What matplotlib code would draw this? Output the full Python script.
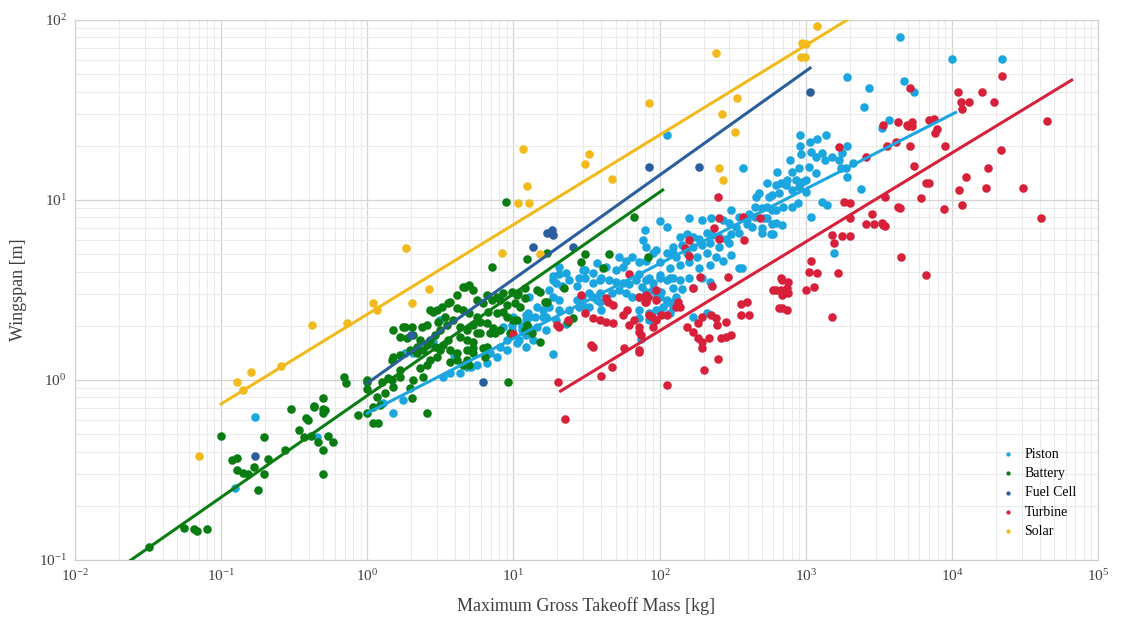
import matplotlib.pyplot as plt
import numpy as np
from matplotlib.ticker import NullFormatter, LogLocator

plt.rcParams['font.family'] = 'Liberation Serif'
plt.rcParams['mathtext.fontset'] = 'custom'
plt.rcParams['mathtext.rm'] = 'Liberation Serif'

# Data: mass [kg], wingspan [m]
piston_mass = [0.17, 0.125, 0.45, 1900, 2700, 2500, 3700, 3300, 112, 370, 4400, 10000, 22000, 4700, 5500,
               1550, 18.5, 75, 1.76, 1.5, 1.28, 1.82, 2.06,
               910, 1200, 1370, 1070, 910, 930, 1080, 1170, 1290, 1350, 1500, 1680, 1900, 1780,
               780, 900, 1050, 1170, 810, 640, 740, 860, 1000, 540, 630, 730, 810, 900,
               1880, 2100, 2400, 480, 560, 660, 1750, 1900, 1400, 1290, 680, 940, 460, 590, 1000,
               540, 630, 700, 810, 890, 520, 590, 690, 1090, 500, 600,
               450, 500, 590, 410, 450, 540, 630, 395, 430, 500, 580, 310, 350, 395,
               160, 195, 225, 270, 300, 335, 350, 100, 112, 79, 77,
               137, 153, 168, 187, 210, 230, 255, 285, 310,
               123, 143, 168, 195, 220, 255, 300, 95, 112, 130, 153, 180, 210, 245, 270,
               81, 100, 117, 137, 160, 187, 220, 310, 350, 365,
               72, 85, 100, 117, 137, 160, 195, 220, 76, 90, 103, 123, 143, 168,
               81, 95, 112, 130, 72, 85, 100, 123, 168, 210, 72, 85,
               81, 90, 123, 53, 59, 65, 72, 37, 43, 50, 56, 30, 31, 35, 40, 45, 50, 56, 62, 69, 81, 90,
               100, 112, 123, 24, 27, 21.5, 18.5, 20.5, 17.5, 18.5, 20.5, 27, 29.5, 35, 39, 47, 53, 59,
               65, 72, 81, 90, 100, 112, 123, 12.8, 14.4, 15.8, 14, 12.2, 11.5, 12.8, 20.5, 24, 28, 33,
               39, 40, 16.8, 19.5, 23, 12.2, 13.5, 95, 105, 117, 18.5, 20.5, 23, 19.5, 17.5, 15.8,
               14.4, 16.8, 12.8, 12.2, 10, 9.8, 8.5, 9, 10.9, 12.2, 8.1, 6.9, 7.7, 6.6, 5.6, 4.8, 4.3,
               3.7, 3.3, 28, 31, 35, 39, 33, 37, 31, 43, 3.9, 5.1, 9, 10.5, 11.5, 12.2, 9.8, 12.5,
               11.9, 3.15, 2.8]
piston_span = [0.62, 0.25, 0.48, 48, 42, 33, 28, 25, 23, 15, 80, 61, 61, 46, 40,
               5.1, 1.4, 1.7, 0.77, 0.66, 0.75, 1.41, 1.41,
               23, 21.8, 23, 21, 20, 18, 18.5, 17.3, 18.2, 16.7, 17.3, 16.7, 20, 18.2,
               16.7, 15, 15.2, 14.1, 14.3, 14.3, 12.9, 12.9, 12.9, 12.4, 12.1, 12.1, 11.4, 11.8,
               15, 16, 11.5, 11, 10.4, 11, 15, 13.4, 9.4, 9.8, 12.4, 12.6, 10.4, 10.7, 11.1,
               9.1, 8.8, 9.1, 9.1, 9.6, 7.9, 7.4, 7.3, 8.1, 6.6, 6.5,
               9.1, 9, 8.8, 8.4, 8.0, 7.9, 7.5, 7.4, 7.1, 7.0, 6.5, 8.8, 8.0, 7.7,
               7.9, 7.7, 7.9, 7.7, 7.5, 7.1, 6.6, 7.6, 7.1, 6.8, 6.0,
               6.2, 6.5, 6.2, 6.1, 6.6, 6.4, 6.2, 6.1, 6.5,
               5.5, 5.6, 5.5, 5.6, 5.8, 5.5, 5.8, 5.3, 5.1, 4.8, 5.1, 4.8, 5.1, 4.8, 4.6,
               4.6, 4.5, 4.2, 4.35, 4.5, 4.2, 4.35, 4.95, 4.2, 4.2,
               3.9, 3.7, 3.85, 3.7, 3.6, 3.7, 3.7, 3.5, 3.3, 3.2, 3.1, 3.25, 3.2, 3.25,
               2.8, 2.9, 2.7, 2.9, 2.45, 2.35, 2.45, 2.55, 2.25, 2.35, 2.2, 2.15,
               5.5, 5.1, 5.1, 4.8, 4.6, 4.8, 4.5, 4.45, 4.25, 4.1, 4.25, 4.1, 3.7, 3.45, 3.7, 3.6, 3.5,
               3.45, 3.4, 3.6, 3.6, 3.45,
               3.7, 3.6, 3.7, 3.6, 3.35, 3.35, 3.6, 3.9, 3.15, 2.9, 2.8, 2.8, 2.9, 2.9, 3.05, 3.05, 3.15,
               3.05, 2.9, 2.9, 3.1, 3.15, 2.9, 2.8, 2.7, 2.9, 2.55, 2.45, 2.25, 2.3, 2.0, 1.95, 2.45,
               2.45, 2.55, 2.55, 2.7, 2.45, 2.25, 2.15, 2.05, 1.78, 1.67, 2.45, 2.55, 2.35, 3.8, 4.25,
               3.95, 3.45, 2.55, 2.25, 1.97, 1.9, 2.25, 1.82, 2.25, 1.9, 1.97, 1.67, 1.67, 1.53, 1.53,
               1.41, 1.34, 1.24, 1.21, 1.18, 1.1, 1.09, 1.04, 3.7, 4.1, 3.95, 3.6, 3.05, 2.8, 2.55, 2.8,
               1.38, 1.18, 1.47, 1.6, 1.9, 2.15, 2.02, 2.36, 1.82, 2.15, 1.63]

battery_mass = [0.032, 0.056, 0.065, 0.068, 0.08, 0.1, 0.119, 0.128, 0.128, 0.14, 0.153, 0.168, 0.18,
                0.196, 0.196, 0.21, 0.275, 0.3, 0.34, 0.39, 0.366, 0.43, 0.41, 0.5, 0.5, 0.5, 0.46,
                0.5, 0.5, 0.54, 0.58, 0.38, 0.435, 0.51, 0.69, 0.72, 1.0, 1.0, 1.1, 0.86, 1.0, 1.17,
                1.23, 1.33, 1.5, 1.5, 1.5, 1.68, 2.06, 1.97, 2.03, 1.76, 2.03, 2.37, 2.57, 2.7, 3.0,
                3.57, 4.1, 4.66, 5.0, 7.1, 3.7, 3.25, 2.82, 5.6, 6.2, 7.1, 7.7, 8.5, 9.8, 10.7, 9.0,
                10.2, 6.7, 7.7, 8.5, 5.6, 5.0, 4.5, 4.1, 3.86, 3.5, 3.15, 2.9, 2.7, 4.3, 4.8, 5.3,
                5.9, 6.6, 4.3, 4.8, 5.3, 5.6, 3.57, 3.3, 3.15, 2.9, 3.7, 4.1, 4.1, 3.7, 3.0, 2.7,
                2.57, 2.4, 2.2, 2.57, 1.97, 2.2, 2.3, 4.8, 5.3, 6.2, 6.4, 4.5, 5.0, 6.9, 7.2, 8.1,
                9.0, 9.9, 11, 11.9, 3.4, 3.05, 2.57, 2.06, 1.87, 1.68, 1.27, 1.39, 1.48, 1.68, 2.4,
                2.3, 1.1, 1.19, 1.0, 9.2, 8.9, 12.4, 17, 31, 45, 41, 29, 22, 15.2, 12, 10.6, 8.1,
                6.6, 5.3, 4.5, 10.6, 12, 13.4, 15.2, 9.5, 5.9, 6.6, 5.3, 4.8, 7.5, 17, 23.5, 67, 83,
                14.5, 16.4, 25.5, 12.4, 1.82, 1.68, 1.48]
battery_span = [0.118, 0.15, 0.148, 0.145, 0.148, 0.49, 0.36, 0.37, 0.315, 0.305, 0.3, 0.33, 0.245,
                0.48, 0.3, 0.365, 0.41, 0.69, 0.53, 0.6, 0.48, 0.72, 0.49, 0.79, 0.69, 0.66, 0.45,
                0.41, 0.3, 0.49, 0.45, 0.615, 0.71, 0.68, 1.04, 0.96, 0.97, 0.89, 0.71, 0.64, 1.0, 0.8,
                0.73, 0.85, 0.91, 1.34, 1.9, 1.04, 1.0, 0.9, 0.79, 1.97, 1.97, 1.97, 0.66, 2.45, 2.45,
                2.68, 2.97, 3.28, 3.37, 4.25, 2.71, 2.55, 2.39, 2.78, 2.68, 2.78, 2.89, 3.04, 3.08, 3.04, 2.61,
                2.68, 2.39, 2.36, 2.39, 2.24, 2.36, 2.45, 2.51, 2.15, 2.02, 1.9, 1.78, 1.67, 1.97, 1.9, 2.02,
                2.1, 2.07, 1.73, 1.67, 1.63, 1.82, 1.67, 1.56, 1.47, 1.53, 1.47, 1.41, 1.29, 1.26, 1.34, 1.29,
                1.21, 1.47, 1.41, 1.56, 1.47, 1.53, 1.67, 1.47, 1.5, 1.5, 1.34, 1.21, 1.21, 1.82, 1.94, 1.9,
                2.24, 2.15, 2.55, 2.86, 2.24, 2.1, 2.02, 1.78, 1.71, 1.73, 0.97, 1.03, 1.29, 1.38, 1.04,
                1.17, 0.58, 0.58, 0.66, 0.97, 9.75, 4.7, 5.1, 5.0, 5.0, 4.2, 4.5, 3.25, 3.08, 3.25, 2.97, 2.78,
                2.97, 3.16, 3.28, 2.15, 1.9, 1.82, 1.63, 1.82, 1.82, 1.53, 1.41, 1.29, 1.82, 2.71, 2.1, 8.0, 4.8,
                3.16, 2.71, 2.21, 2.02, 1.97, 1.14, 1.0]

fuelcell_mass = [0.17, 2.0, 6.2, 13.6, 17, 18.6, 18.4, 25.5, 84, 185, 1070]
fuelcell_span = [0.38, 1.78, 0.97, 5.5, 6.6, 6.4, 6.8, 5.5, 15.2, 15.2, 39.8]

turbine_mass = [10, 20.3, 22.5, 29, 20.5, 31, 35, 39, 43, 48, 44, 48, 34, 35, 40, 47, 23.5, 62, 60, 56,
                67, 72, 62, 72, 75, 57, 72, 81, 81, 95, 95, 85, 95, 112, 130, 113, 20, 43, 250, 255, 237,
                255, 370, 490, 380, 160, 148, 160, 190, 295, 230, 168, 83, 72, 79, 133, 137, 88, 103, 90,
                72, 153, 168, 182, 196, 225, 245, 248, 285, 182, 196, 194, 219, 265, 285, 310, 252, 200,
                360, 395, 360, 410, 630, 690, 740, 690, 660, 740, 1000, 5200, 3400, 4300, 4900, 5300,
                1680, 2600, 3600, 4150, 5200, 5500, 6700, 6100, 3500, 4300, 1820, 2000, 2850, 2600, 2950,
                3400, 2000, 1500, 1770, 2000, 1560, 4500, 1090, 1050, 1200, 1650, 680, 750, 600, 680, 750,
                1130, 690, 1500, 6700, 22000, 16000, 19500, 11000, 11600, 13000, 11800, 7000, 7500, 7900,
                7700, 5000, 5300, 8900, 21700, 45000, 17600, 12500, 7000, 11100, 17100, 30600, 4400, 8800,
                11700, 41000, 3300, 3500]
turbine_span = [1.8, 0.97, 0.61, 2.95, 1.97, 2.36, 2.2, 2.15, 2.1, 2.07, 2.7, 2.6, 1.56, 1.52, 1.05, 1.18,
                2.15, 3.9, 2.45, 2.3, 2.15, 1.97, 2.02, 1.85, 1.78, 1.5, 1.43, 2.95, 2.7, 2.8, 3.15, 2.3,
                2.15, 2.3, 2.55, 0.94, 2.02, 2.85, 10.4, 7.9, 7.0, 6.05, 8.0, 7.9, 6.0, 6.0, 5.4, 4.9, 3.75,
                3.75, 3.35, 3.25, 2.9, 2.9, 2.7, 2.7, 2.55, 2.25, 2.3, 1.97, 1.47, 1.97, 1.85, 2.07, 2.25,
                2.3, 2.2, 2.02, 2.1, 1.71, 1.63, 1.5, 1.71, 1.71, 1.73, 1.78, 1.31, 1.14, 2.65, 2.7, 2.3,
                2.3, 3.15, 3.6, 3.25, 2.95, 2.5, 2.45, 3.15, 42, 26, 27, 26, 27, 19.7, 17.3, 20, 21, 20,
                15.5, 12.4, 10.2, 10.4, 9.1, 9.8, 9.6, 8.4, 7.4, 7.4, 7.3, 7.9, 6.4, 6.3, 6.3, 5.8, 4.8,
                4.6, 4.0, 3.95, 3.95, 3.7, 3.5, 3.15, 3.15, 3.05, 3.3, 2.5, 2.25, 3.85, 49, 40, 35, 40, 35,
                35, 32, 27.8, 28.2, 24.9, 23.6, 25.8, 25.8, 20, 19, 27.5, 15, 13.4, 12.4, 11.4, 11.7, 11.7,
                9.0, 8.9, 9.4, 7.9, 7.5, 7.2]

solar_mass = [0.071, 0.128, 0.14, 0.161, 0.255, 0.42, 0.73, 1.1, 1.17, 1.85, 2.03, 2.65, 8.3, 15.2,
              11.6, 12.4, 10.7, 12.8, 33, 31, 47, 84, 245, 336, 269, 330, 253, 270, 1200, 946, 1000,
              930, 990]
solar_span = [0.38, 0.97, 0.88, 1.11, 1.2, 2.02, 2.07, 2.68, 2.45, 5.4, 2.68, 3.2, 5.1, 5.0,
              19.2, 12, 9.6, 9.6, 18, 15.8, 13.1, 34.6, 65.6, 36.9, 30, 23.9, 15.1, 12.9, 92.6, 74.5, 74,
              62.3, 62]

# power-law fits: span = coef * mass ** expo, drawn over [xmin, xmax]
fit_names = ['Piston', 'Battery', 'Fuel Cell', 'Turbine', 'Solar']
fit_coef = [0.655, 0.82, 0.96, 0.193, 2.32]
fit_expo = [0.415, 0.565, 0.578, 0.494, 0.498]
fit_xmin = [1, 0.024, 1, 21, 0.1]
fit_xmax = [10600, 105, 1070, 66000, 1950]

x_ticks = [1e-2, 1e-1, 1e0, 1e1, 1e2, 1e3, 1e4, 1e5]
y_ticks = [1e-1, 1e0, 1e1, 1e2]

colors = {'Piston': '#1ba6e0', 'Battery': '#0a7d12', 'Fuel Cell': '#2a5e9c',
          'Turbine': '#d7213a', 'Solar': '#f2ba1c'}

series = [('Piston', piston_mass, piston_span),
          ('Battery', battery_mass, battery_span),
          ('Fuel Cell', fuelcell_mass, fuelcell_span),
          ('Turbine', turbine_mass, turbine_span),
          ('Solar', solar_mass, solar_span)]

fig = plt.figure(figsize=(11.23, 6.26), dpi=100)
ax = fig.add_axes([0.0668, 0.1054, 0.911, 0.8626])

for name, m, s in series:
    ax.scatter(m, s, s=38, color=colors[name], linewidths=0, label=name, zorder=3)

for i, name in enumerate(fit_names):
    xx = np.logspace(np.log10(fit_xmin[i]), np.log10(fit_xmax[i]), 50)
    ax.plot(xx, fit_coef[i] * xx ** fit_expo[i], color=colors[name], lw=2.2, zorder=4)

ax.set_xscale('log')
ax.set_yscale('log')
ax.set_xticks(x_ticks)
ax.set_yticks(y_ticks)
ax.xaxis.set_minor_locator(LogLocator(base=10, subs=np.arange(2, 10), numticks=20))
ax.yaxis.set_minor_locator(LogLocator(base=10, subs=np.arange(2, 10), numticks=20))
ax.xaxis.set_minor_formatter(NullFormatter())
ax.yaxis.set_minor_formatter(NullFormatter())
ax.set_xlim(1e-2, 1e5)
ax.set_ylim(1e-1, 1e2)

ax.grid(True, which='major', color='#d4d4d4', lw=0.9)
ax.grid(True, which='minor', color='#eaeaea', lw=0.7)
ax.set_axisbelow(True)
ax.tick_params(which='both', length=0, labelsize=11, colors='#404040', pad=6)
for sp in ax.spines.values():
    sp.set_color('#cfcfcf')

ax.set_xlabel('Maximum Gross Takeoff Mass [kg]', fontsize=13, color='#404040', labelpad=9)
ax.set_ylabel('Wingspan [m]', fontsize=13, color='#404040', labelpad=8)

leg = ax.legend(loc='lower right', frameon=False, fontsize=10, markerscale=0.5,
                handletextpad=0.2, labelspacing=0.45, borderaxespad=1.2)

fig.savefig('out.png', dpi=100)
